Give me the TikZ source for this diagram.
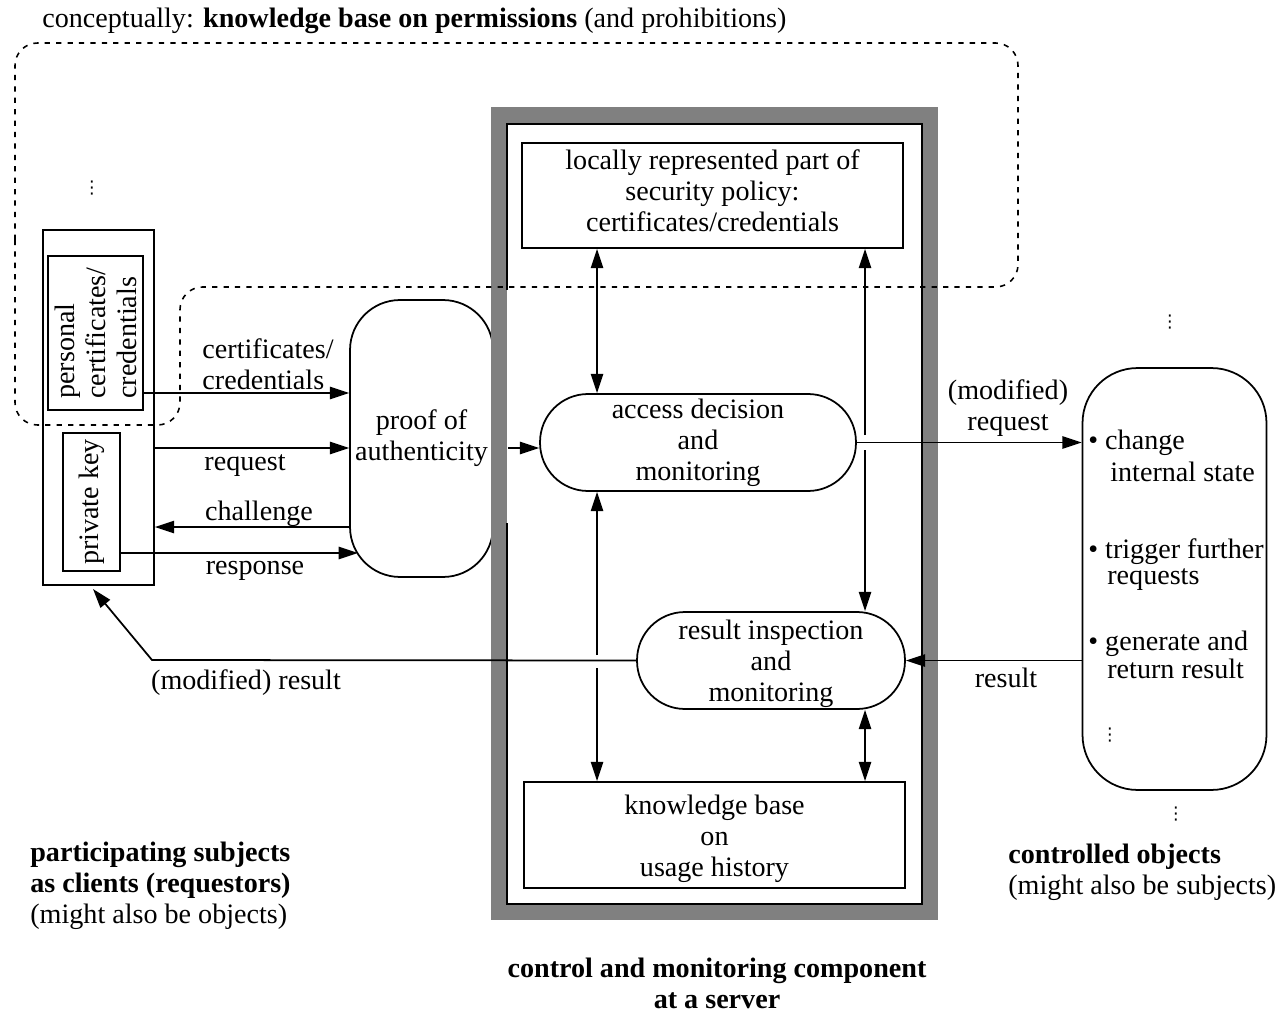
\documentclass[tikz,border=0pt]{standalone}
\usepackage{fontspec}
\setmainfont{Liberation Serif}
\newfontfamily\dotsfont{DejaVu Sans}
\usetikzlibrary{arrows.meta}
\begin{document}
\begin{tikzpicture}[x=0.02cm,y=-0.02cm,
  every node/.style={font=\fontsize{16pt}{17.6pt}\selectfont, inner sep=0pt},
  box/.style={draw, line width=1pt, fill=white},
  pill/.style={draw, line width=1pt, fill=white},
  dotsnode/.style={font=\dotsfont\fontsize{10pt}{11pt}\selectfont},
  arr/.style={line width=1pt, -{Triangle[length=11pt,width=7pt]}},
  dbl/.style={line width=1pt, {Triangle[length=11pt,width=7pt]}-{Triangle[length=11pt,width=7pt]}},
  dashline/.style={line width=0.9pt, dash pattern=on 3pt off 3.5pt, rounded corners=0.45cm},
]
\useasboundingbox (0,0) rectangle (1280,1013);

% proof of authenticity (partly hidden by the frame)
\node[pill, rounded corners=1cm, minimum width=2.86cm, minimum height=5.54cm, align=center] (proof) at (421.5,438.5) {proof of\\authenticity};

% control component frame
\fill[black!50] (491,107) rectangle (938,920);
\fill[white] (507,124) rectangle (922,904);
\draw[line width=1pt] (507,290) -- (507,124) -- (922,124) -- (922,904) -- (507,904) -- (507,523);

% inner nodes
\node[box, minimum width=7.62cm, minimum height=2.1cm, align=center] (topbox) at (712.5,195.5)
  {locally represented part of\\security policy:\\certificates/credentials\rule[-5.5pt]{0pt}{0pt}};
\node[pill, rounded corners=0.96cm, minimum width=6.32cm, minimum height=1.94cm, align=center] (access) at (698,442.5)
  {access decision\\and\\monitoring};
\node[pill, rounded corners=0.96cm, minimum width=5.36cm, minimum height=1.94cm, align=center] (result) at (771,660.5)
  {\rule{0pt}{15pt}result inspection\\and\\monitoring};
\node[box, minimum width=7.62cm, minimum height=2.12cm, align=center] (kb) at (714.5,835)
  {\rule{0pt}{15pt}knowledge base\\on\\usage history};

% client side
\node[box, minimum width=2.22cm, minimum height=7.1cm] (clientbox) at (98.5,407.5) {};
\node[box, rotate=90, minimum width=3.08cm, minimum height=1.9cm, align=left] (persbox) at (95.5,333)
  {personal\\certificates/\\credentials};
\node[box, rotate=90, minimum width=2.76cm, minimum height=1.14cm] (keybox) at (91.5,502) {private key};

% controlled objects
\node[pill, rounded corners=1.1cm, minimum width=3.68cm, minimum height=8.44cm] (objects) at (1174.5,579) {};

% dashed knowledge-base region
\draw[dashline] (15,240) -- (15,43) -- (1018,43) -- (1018,287) -- (180,287) -- (180,425) -- (15,425) -- (15,240);

% connectors on the client side
\coordinate (resp) at (358,553);
\draw[arr] (persbox.south |- 0,393) -- (proof.west |- 0,393);
\draw[arr] (clientbox.east |- 0,448) -- (proof.west |- 0,448);
\draw[arr] (proof.west |- 0,527) -- (clientbox.east |- 0,527);
\draw[arr] (keybox.south |- 0,553) -- (resp);
\draw[arr, shorten <=8pt] (proof.east |- 0,448) -- (access.west |- 0,448);

% vertical connectors inside the component
\coordinate (gA) at (597,655);
\coordinate (gB) at (597,668);
\coordinate (gC) at (865,435);
\coordinate (gD) at (865,450);
\draw[dbl] (597,0 |- topbox.south) -- (597,0 |- access.north);
\draw[arr] (gA) -- (597,0 |- access.south);
\draw[arr] (gB) -- (597,0 |- kb.north);
\draw[arr] (gC) -- (865,0 |- topbox.south);
\draw[arr] (gD) -- (865,0 |- result.north);
\draw[dbl] (865,0 |- result.south) -- (865,0 |- kb.north);

% request / result to objects
\draw[arr] (access.east) -- (objects.west |- access.east);
\draw[arr] (objects.west |- result.east) -- (result.east);
\coordinate (bend) at (152,660);
\coordinate (tipc) at (93,589);
\draw[arr] (result.west) -- (bend) -- (tipc);

% labels
\node[anchor=west] (title) at (42,21) {conceptually: \textbf{knowledge base on permissions} (and prohibitions)};
\node[align=left] (lcert) at (268,364) {certificates/\\credentials};
\node (lreq) at (245,466) {request};
\node (lchal) at (259,514) {challenge};
\node (lresp) at (255,571) {response};
\node[align=center] (lmreq) at (1008,408) {(modified)\\request};
\node (lres) at (1006,678) {result};
\node (lmres) at (246,683) {(modified) result};

\node[anchor=west] (b1) at (1088,443) {\textbullet\ change};
\node[anchor=west] (b1b) at (1110,472) {internal state};
\node[anchor=west] (b2) at (1088,552) {\textbullet\ trigger further};
\node[anchor=west] (b2b) at (1107,580) {requests};
\node[anchor=west] (b3) at (1088,644) {\textbullet\ generate and};
\node[anchor=west] (b3b) at (1107,669) {return result};

\node[dotsnode] (d1) at (92,188) {⋮};
\node[dotsnode] (d2) at (1170,322) {⋮};
\node[dotsnode] (d3) at (1110,735) {⋮};
\node[dotsnode] (d4) at (1176,814) {⋮};

\node[anchor=west, align=left] (clients) at (30,886)
  {\textbf{participating subjects}\\\textbf{as clients (requestors)}\\(might also be objects)};
\node[anchor=west, align=left] (objlbl) at (1008,872)
  {\textbf{controlled objects}\\(might also be subjects)};
\node[align=center] (caption) at (717,983)
  {\textbf{control and monitoring component}\\\textbf{at a server}};
\end{tikzpicture}
\end{document}
